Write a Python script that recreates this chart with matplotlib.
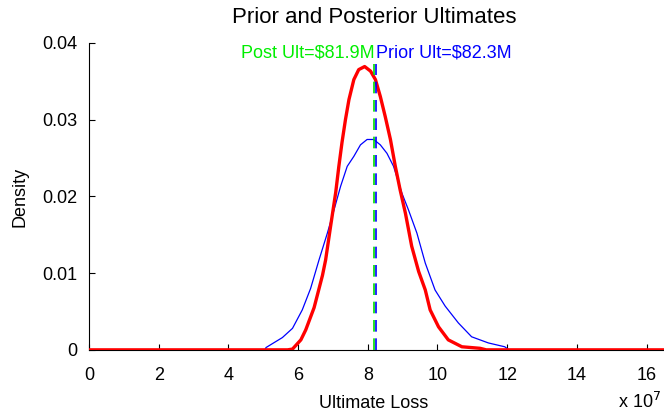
import matplotlib
matplotlib.use("Agg")
import matplotlib.pyplot as plt

# Ultimate loss (x 10^7) and density (x 10^-6)
post_x = [0, 5.70, 5.84, 6.08, 6.22, 6.46, 6.70, 6.79, 6.93, 7.08, 7.17, 7.26, 7.36, 7.46,
          7.60, 7.74, 7.91, 8.08, 8.22, 8.36, 8.50, 8.65, 8.79, 8.93, 9.08, 9.26, 9.46,
          9.65, 9.79, 10.03, 10.31, 10.70, 11.22, 11.40, 16.5]
post_y = [0, 0.0, 0.0001, 0.0013, 0.0026, 0.0055, 0.0097, 0.0117, 0.0160, 0.0205, 0.0239,
          0.0270, 0.0300, 0.0326, 0.0352, 0.0365, 0.0369, 0.0363, 0.0352, 0.0330, 0.0304,
          0.0274, 0.0239, 0.0208, 0.0178, 0.0135, 0.0102, 0.0078, 0.0052, 0.0030, 0.0013,
          0.0004, 0.0002, 0.0, 0]

prior_x = [0, 5.05, 5.08, 5.55, 5.84, 6.12, 6.36, 6.60, 6.84, 7.03, 7.22, 7.41, 7.60, 7.79,
           7.98, 8.17, 8.36, 8.55, 8.74, 8.98, 9.17, 9.41, 9.65, 9.93, 10.22, 10.60, 10.98,
           11.46, 11.93, 12.05, 16.5]
prior_y = [0, 0.0, 0.0003, 0.0016, 0.0028, 0.0052, 0.0080, 0.0117, 0.0152, 0.0182, 0.0213,
           0.0239, 0.0252, 0.0267, 0.0274, 0.0274, 0.0267, 0.0256, 0.0239, 0.0204, 0.0182,
           0.0152, 0.0113, 0.0078, 0.0057, 0.0035, 0.0017, 0.0009, 0.0004, 0.0, 0]

post_ult = 8.19
prior_ult = 8.23
line_top = 0.0372
post_label = "Post Ult=\\$81.9M"
prior_label = "Prior Ult=\\$82.3M"

xticks = [0, 2, 4, 6, 8, 10, 12, 14, 16]
yticks = [0, 0.01, 0.02, 0.03, 0.04]
ytick_labels = ["0", "0.01", "0.02", "0.03", "0.04"]

plt.rcParams['font.family'] = ['Liberation Sans', 'DejaVu Sans']

fig = plt.figure(figsize=(6.64, 4.15), dpi=100)
ax = fig.add_axes([0.134, 0.157, 0.866, 0.74])

ax.plot(prior_x, prior_y, color='#0000ff', lw=0.9, zorder=3)
ax.plot(post_x, post_y, color='#ff0000', lw=2.4, zorder=4, solid_joinstyle='round')
ax.plot([post_ult, post_ult], [0, line_top], color='#00dd00', lw=1.2, dashes=(7, 4), zorder=5)
ax.plot([prior_ult, prior_ult], [0, line_top], color='#0000ff', lw=1.2, dashes=(7, 4), zorder=5)

ax.text(post_ult, 0.0387, post_label, color='#00ee00', ha='right', va='center', fontsize=13)
ax.text(prior_ult, 0.0387, prior_label, color='#0000ff', ha='left', va='center', fontsize=13)

ax.set_xlim(0, 16.5)
ax.set_ylim(0, 0.04)
ax.set_xticks(xticks)
ax.set_xticklabels([str(t) for t in xticks])
ax.set_yticks(yticks)
ax.set_yticklabels(ytick_labels)
ax.tick_params(direction='in', labelsize=13, length=4)
ax.tick_params(axis='x', pad=12)
ax.tick_params(axis='y', pad=8)
for s in ['top', 'right']:
    ax.spines[s].set_visible(False)

fig.text(0.563, 0.958, "Prior and Posterior Ultimates", fontsize=16, ha='center', va='center')
fig.text(0.563, 0.027, "Ultimate Loss", fontsize=13, ha='center', va='center')
fig.text(0.030, 0.525, "Density", fontsize=13, ha='center', va='center', rotation=90)

fig.text(0.93, 0.032, "x 10$^{7}$", fontsize=13, ha='left', va='center')
fig.text(0.93, 1.012, "x 10$^{-6}$", fontsize=13, ha='left', va='center')

fig.savefig("out.png", dpi=100)
